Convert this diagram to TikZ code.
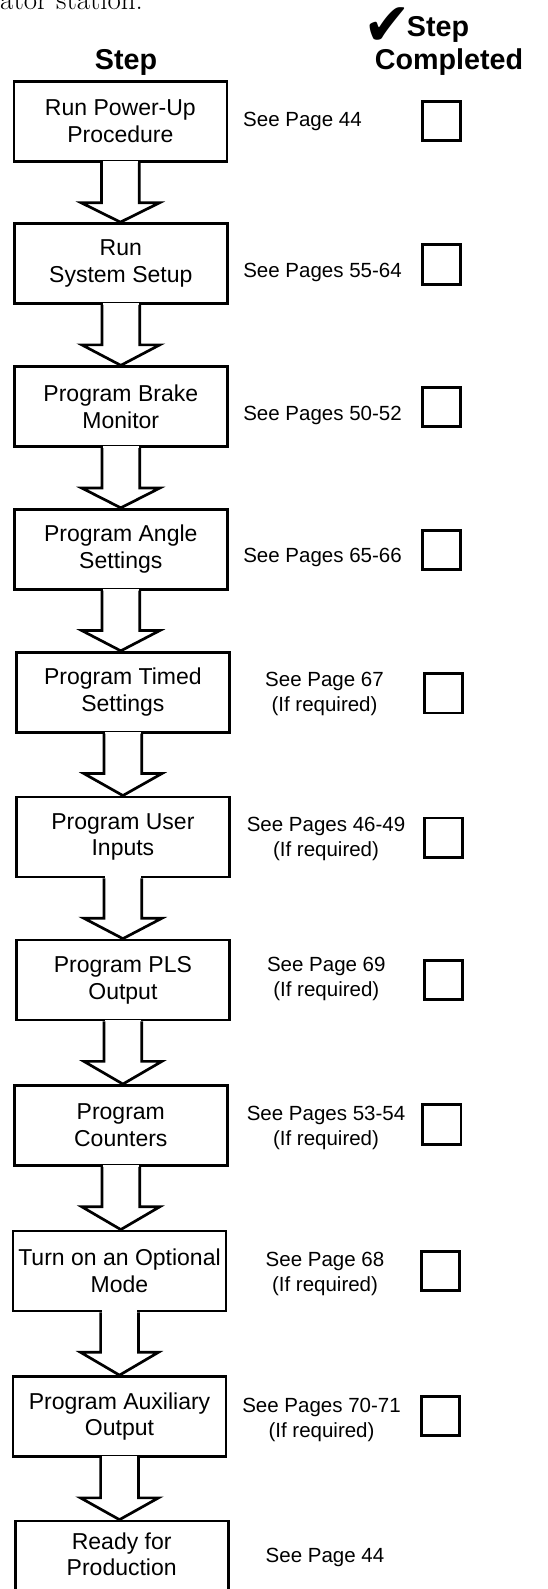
\documentclass[tikz,border=0pt]{standalone}
\usepackage{fontspec}
\setsansfont{Liberation Sans}
\newfontfamily\symfont{DejaVu Sans}
\usetikzlibrary{calc}
\newcommand\boxfont{\sffamily\fontsize{23}{26.7}\selectfont}
\newcommand\sidefont{\sffamily\fontsize{20.5}{25}\selectfont}
\newcommand\hdrfont{\sffamily\bfseries\fontsize{28.7}{31}\selectfont}
\newcommand\blockarrow[2]{%
  \fill[white] ($(#1.south)+(-17.8,-1.8)$) rectangle ($(#1.south)+(17.8,2)$);
  \draw[arrowline] ($(#1.south)+(-18.9,0)$) -- ($(#1.south)+(-18.9,40)$)
     -- ($(#1.south)+(-39,40)$) -- (#1.south |- #2.north)
     -- ($(#1.south)+(39,40)$) -- ($(#1.south)+(18.9,40)$)
     -- ($(#1.south)+(18.9,0)$);
}
\begin{document}
\begin{tikzpicture}[x=1pt,y=-1pt,
  stepbox/.style={draw, line width=2.7pt, minimum width=213pt, minimum height=80pt,
    align=center, font=\boxfont, inner sep=0pt},
  side/.style={align=center, font=\sidefont, inner sep=0pt},
  tickbox/.style={draw, line width=2.9pt, minimum width=38.5pt, minimum height=39.5pt, inner sep=0pt},
  hdr/.style={font=\hdrfont, inner sep=0pt},
  arrowline/.style={line width=2.7pt, line join=miter}]
\useasboundingbox (0,0) rectangle (548,1589);
\fill[white] (0,0) rectangle (548,1589);

% top text line (cut off by the page edge)
\node[anchor=base west, font=\rmfamily\fontsize{29}{31}\selectfont, inner sep=0pt] (topline) at (0,10) {ator station.};

% headers
\node[hdr, anchor=base] (hstep) at (126,70) {Step};
\node[hdr, anchor=base] (hcomp) at (449,70) {Completed};
\node[hdr, anchor=base] (hstep2) at (438,37) {Step};
\node[anchor=base west, font=\symfont\fontsize{60}{60}\selectfont, inner sep=0pt] (tickmark) at (363.5,45.5) {\smash{\scalebox{0.95}[1]{✔}}};

% step boxes
\node[stepbox] (b1) at (120.4,121.5) {Run Power-Up\\Procedure};
\node[stepbox] (b2) at (120.8,263.5) {Run\\System Setup};
\node[stepbox] (b3) at (120.8,406.7) {Program Brake\\Monitor};
\node[stepbox] (b4) at (120.8,549.2) {Program Angle\\Settings};
\node[stepbox] (b5) at (122.9,692.2) {Program Timed\\Settings};
\node[stepbox] (b6) at (122.9,836.9) {Program User\\Inputs};
\node[stepbox] (b7) at (122.9,980) {Program PLS\\Output};
\node[stepbox] (b8) at (120.8,1125.4) {Program\\Counters};
\node[stepbox] (b9) at (119.5,1270.9) {Turn on an Optional\\Mode};
\node[stepbox] (b10) at (119.5,1416.5) {Program Auxiliary\\Output};
\node[stepbox] (b11) at (121.7,1561) {Ready for\\Production\rule[-13.5pt]{0pt}{13.5pt}};

% block arrows
\blockarrow{b1}{b2}
\blockarrow{b2}{b3}
\blockarrow{b3}{b4}
\blockarrow{b4}{b5}
\blockarrow{b5}{b6}
\blockarrow{b6}{b7}
\blockarrow{b7}{b8}
\blockarrow{b8}{b9}
\blockarrow{b9}{b10}
\blockarrow{b10}{b11}

% side references
\node[side, anchor=base west] (s1) at (243,127) {See Page 44};
\node[side, anchor=base] (s2) at (322.5,277.3) {See Pages 55-64};
\node[side, anchor=base] (s3) at (322.5,420) {See Pages 50-52};
\node[side, anchor=base] (s4) at (322.5,562.3) {See Pages 65-66};
\node[side] (s5) at (324.5,693.9) {See Page 67\\(If required)};
\node[side] (s6) at (326,838.9) {See Pages 46-49\\(If required)};
\node[side] (s7) at (326.3,978.9) {See Page 69\\(If required)};
\node[side] (s8) at (326,1128.2) {See Pages 53-54\\(If required)};
\node[side] (s9) at (325,1273.9) {See Page 68\\(If required)};
\node[side] (s10) at (321.5,1419.9) {See Pages 70-71\\(If required)};
\node[side, anchor=base] (s11) at (325,1562.3) {See Page 44};

% check boxes
\node[tickbox] (c1) at (441.5,121) {};
\node[tickbox] (c2) at (441.5,264.3) {};
\node[tickbox] (c3) at (441.5,407) {};
\node[tickbox] (c4) at (441.5,550) {};
\node[tickbox] (c5) at (443.3,693.2) {};
\node[tickbox] (c6) at (443.3,837.7) {};
\node[tickbox] (c7) at (443.3,980) {};
\node[tickbox] (c8) at (441.7,1124.5) {};
\node[tickbox] (c9) at (440.3,1270.9) {};
\node[tickbox] (c10) at (440.3,1415.9) {};
\end{tikzpicture}
\end{document}
